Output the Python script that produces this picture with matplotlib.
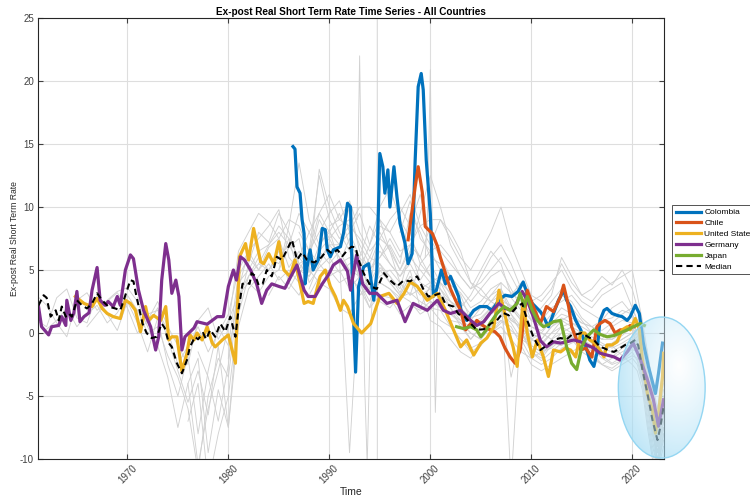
import numpy as np
import matplotlib
matplotlib.use("Agg")
import matplotlib.pyplot as plt
from matplotlib.patches import Ellipse

plt.rcParams['font.family'] = ['Liberation Sans', 'DejaVu Sans']
plt.rcParams['axes.unicode_minus'] = False

# highlighted countries: (time, rate) pairs
colombia_t = [1986.4, 1986.6, 1986.8, 1987.1, 1987.3, 1987.5, 1987.6, 1987.8, 1988.1, 1988.4,
              1988.9, 1989.3, 1989.6, 1989.8, 1990.1, 1990.4, 1991.1, 1991.4, 1991.8, 1992.1,
              1992.3, 1992.6, 1992.9, 1993.4, 1993.9, 1994.4, 1994.7, 1995.0, 1995.3, 1995.5,
              1995.8, 1996.0, 1996.4, 1996.7, 1997.0, 1997.5, 1997.8, 1998.2, 1998.5, 1998.8,
              1999.1, 1999.3, 1999.6, 2000.0, 2000.3, 2000.6, 2001.1, 2001.5, 2002.0, 2002.3,
              2002.8, 2003.1, 2003.6, 2004.3, 2004.9, 2005.6, 2006.1, 2006.8, 2007.4, 2008.1,
              2008.7, 2009.2, 2009.6, 2010.1, 2010.9, 2011.2, 2011.7, 2012.2, 2012.7, 2013.2,
              2013.5, 2013.9, 2014.4, 2014.9, 2015.3, 2015.8, 2016.2, 2016.5, 2016.8, 2017.2,
              2017.5, 2018.0, 2018.5, 2019.0, 2019.5, 2019.8, 2020.3, 2020.7, 2021.1, 2021.6,
              2022.3, 2022.6, 2023.0]
colombia_v = [14.8, 14.6, 11.6, 11.1, 9.0, 7.9, 3.9, 5.25, 6.6, 5.0,
              5.8, 8.3, 8.2, 6.6, 6.05, 6.6, 6.85, 7.9, 10.3, 10.0,
              3.4, -3.1, 3.7, 5.25, 5.5, 2.6, 4.75, 14.25, 13.2, 11.1,
              12.95, 10.0, 13.2, 10.8, 8.7, 7.1, 5.5, 6.3, 13.7, 19.55,
              20.6, 19.3, 13.7, 9.5, 2.9, 3.4, 5.0, 3.9, 4.5, 3.9,
              2.9, 1.55, 1.0, 1.8, 2.1, 2.1, 1.8, 2.6, 3.0, 2.9,
              3.3, 4.05, 3.15, 2.35, 1.7, 1.3, 0.5, 1.55, 2.6, 3.4,
              2.6, 2.1, 1.0, 0.25, -0.8, -2.15, -2.65, -1.6, 1.0, 1.8,
              1.95, 1.55, 1.4, 1.3, 1.0, 1.3, 2.2, 1.55, -0.8, -2.65,
              -4.8, -3.2, -0.8]

chile_t = [1997.8, 1998.2, 1998.5, 1998.8, 1999.2, 1999.5, 1999.8, 2000.2, 2000.7, 2001.0,
           2001.3, 2001.7, 2002.0, 2002.5, 2003.0, 2003.5, 2004.0, 2004.3, 2004.6, 2005.2,
           2005.8, 2006.4, 2006.9, 2007.4, 2007.9, 2008.4, 2008.9, 2009.6, 2010.2, 2010.9,
           2011.5, 2012.2, 2012.9, 2013.2, 2013.7, 2014.0, 2014.5, 2014.9, 2015.4, 2016.0,
           2016.5, 2016.8, 2017.3, 2017.8, 2018.3, 2018.8, 2019.3, 2019.8, 2020.2]
chile_v = [7.4, 9.75, 11.6, 13.2, 11.2, 8.45, 8.2, 7.9, 6.9, 6.0,
           5.25, 4.2, 3.5, 2.6, 1.8, 0.25, 0.75, 0.5, 1.0, 0.6,
           0.3, 0.1, -0.3, -1.2, -1.9, -2.4, -1.35, 3.4, 2.1, 0.75,
           2.1, 1.7, 2.9, 3.8, 2.1, 0.5, -0.55, -1.35, -1.2, -1.9,
           0.5, 0.75, 1.0, 0.75, 0.0, 0.25, 0.25, 0.6, 0.5]

usa_t = [1964.85, 1965.7, 1966.5, 1967.0, 1967.5, 1968.0, 1968.6, 1969.3, 1969.8, 1970.3,
         1970.8, 1971.3, 1971.8, 1972.1, 1972.6, 1973.3, 1973.8, 1974.1, 1974.4, 1974.9,
         1975.4, 1975.9, 1976.2, 1976.6, 1976.9, 1977.4, 1977.9, 1978.4, 1978.7, 1979.4,
         1980.0, 1980.7, 1981.1, 1981.7, 1982.0, 1982.5, 1983.2, 1983.5, 1984.0, 1984.5,
         1985.0, 1985.5, 1986.1, 1986.6, 1987.1, 1987.5, 1987.9, 1988.4, 1989.1, 1989.6,
         1990.1, 1990.6, 1991.1, 1991.4, 1991.8, 1992.4, 1993.2, 1994.1, 1995.0, 1995.9,
         1996.7, 1997.4, 1998.0, 1998.7, 1999.7, 2000.7, 2001.5, 2002.3, 2003.0, 2003.6,
         2004.3, 2005.0, 2005.6, 2006.3, 2006.8, 2007.3, 2007.8, 2008.2, 2008.6, 2009.2,
         2009.6, 2010.1, 2010.6, 2011.2, 2011.7, 2012.2, 2012.9, 2013.4, 2013.9, 2014.4,
         2014.9, 2015.3, 2015.8, 2016.3, 2016.8, 2017.2, 2017.5, 2018.0, 2018.5, 2019.0,
         2019.5, 2019.8, 2020.3, 2020.7, 2021.0, 2021.5, 2022.0, 2022.3, 2022.6, 2023.0,
         2023.1]
usa_v = [2.9, 2.35, 2.1, 2.75, 1.95, 1.55, 1.3, 1.15, 2.6, 2.35,
         1.8, 0.1, 2.1, 1.0, 1.4, 1.0, 2.1, -0.55, -0.3, -0.3,
         -3.05, -1.6, -0.15, -0.55, 0.0, -0.55, 0.5, -0.8, -1.1, -0.55,
         -0.15, -2.4, 6.05, 7.1, 5.8, 8.3, 5.65, 5.5, 6.3, 5.5,
         7.25, 5.0, 4.5, 5.8, 3.9, 2.35, 2.5, 2.35, 4.5, 5.0,
         3.7, 2.9, 1.8, 2.6, 2.1, 0.75, 0.0, 0.75, 2.9, 3.15,
         2.35, 3.15, 4.05, 3.7, 2.6, 3.15, 1.8, 0.25, -1.1, -0.55,
         -1.75, -0.8, -0.4, 0.5, 3.4, 1.8, 0.0, -1.1, -2.65, 2.6,
         0.0, -1.9, -0.55, -1.9, -3.45, -1.35, -1.5, -1.2, -1.35, -1.9,
         0.0, 0.0, -0.55, -0.8, -1.35, -1.9, -0.95, -0.95, -0.7, 0.25,
         0.5, 0.25, 1.15, 0.25, -2.15, -4.8, -6.1, -7.95, -6.4, -3.45,
         -1.6]

germany_t = [1961.2, 1961.5, 1962.2, 1962.5, 1963.2, 1963.5, 1963.9, 1964.0, 1964.4, 1964.7,
             1965.0, 1965.3, 1965.7, 1966.2, 1966.5, 1967.0, 1967.3, 1967.8, 1968.1, 1968.6,
             1969.0, 1969.3, 1969.8, 1970.3, 1970.6, 1971.1, 1971.6, 1972.3, 1972.8, 1973.1,
             1973.4, 1973.8, 1974.1, 1974.4, 1974.8, 1975.1, 1975.4, 1975.7, 1976.6, 1976.9,
             1977.9, 1978.4, 1978.9, 1979.5, 1980.0, 1980.5, 1980.8, 1981.2, 1981.6, 1982.2,
             1982.8, 1983.3, 1983.8, 1984.3, 1985.0, 1985.6, 1986.1, 1986.8, 1987.5, 1987.9,
             1988.6, 1989.3, 1989.9, 1990.4, 1991.1, 1991.8, 1992.1, 1992.7, 1993.3, 1994.0,
             1994.7, 1995.7, 1996.7, 1997.5, 1998.3, 1999.7, 2000.7, 2001.3, 2002.0, 2003.0,
             2004.0, 2004.6, 2005.3, 2005.9, 2006.8, 2007.4, 2008.2, 2009.1, 2009.6, 2010.2,
             2010.9, 2011.5, 2012.2, 2012.9, 2013.5, 2014.2, 2014.9, 2015.5, 2016.2, 2016.8,
             2017.5, 2018.2, 2018.8, 2019.5, 2020.1, 2020.8, 2021.5, 2022.1, 2022.6, 2023.1]
germany_v = [2.1, 0.5, -0.15, 0.5, 0.6, 1.3, 0.6, 2.6, 1.0, 1.6,
             3.3, 0.9, 1.3, 1.6, 3.4, 5.2, 2.6, 2.2, 2.5, 2.1,
             2.9, 2.2, 5.0, 6.2, 5.9, 3.4, 1.8, 0.5, -1.35, -0.3,
             4.2, 7.1, 5.8, 3.15, 4.2, 2.9, -1.35, -0.3, 0.4, 0.9,
             0.7, 1.0, 1.3, 1.3, 3.7, 5.0, 4.2, 6.05, 5.8, 5.0,
             3.9, 2.35, 3.4, 3.9, 3.7, 3.55, 4.35, 5.4, 3.4, 2.9,
             2.9, 3.9, 4.6, 5.4, 5.8, 4.9, 3.4, 6.2, 3.9, 3.15,
             3.15, 2.35, 2.6, 0.9, 2.35, 1.8, 2.6, 1.8, 1.55, 1.8,
             1.0, 0.6, 0.9, 1.55, 2.35, 1.95, 1.8, 3.3, 2.6, 1.3,
             -0.6, -1.1, -0.7, -0.8, -0.7, -0.55, -0.7, -0.95, -1.2, -1.6,
             -1.75, -1.9, -2.15, -1.5, -0.8, -2.1, -3.7, -5.3, -7.4, -5.3]

japan_t = [2002.6, 2003.3, 2004.0, 2004.6, 2005.0, 2005.5, 2005.9, 2006.6, 2007.3, 2007.9,
           2008.6, 2008.9, 2009.3, 2009.6, 2010.1, 2010.6, 2011.2, 2011.8, 2012.2, 2012.9,
           2013.5, 2014.0, 2014.5, 2015.0, 2015.5, 2016.2, 2016.8, 2017.5, 2018.2, 2018.8,
           2019.5, 2020.1, 2020.8, 2021.2]
japan_v = [0.5, 0.35, 0.5, 0.25, -0.3, 0.2, 0.75, 1.55, 2.1, 1.8,
           2.35, 3.15, 2.1, 2.9, 1.8, 1.0, 0.5, 0.7, 0.9, 1.0,
           -1.1, -2.4, -2.9, -1.1, -0.3, 0.25, -0.1, -0.3, -0.2, 0.0,
           0.25, 0.5, 0.75, 0.6]

median_t = [1961.2, 1961.7, 1962.0, 1962.4, 1962.9, 1963.2, 1963.5, 1963.9, 1964.2, 1964.5,
            1965.0, 1965.5, 1966.0, 1966.5, 1967.0, 1967.5, 1968.1, 1968.8, 1969.3, 1969.8,
            1970.3, 1970.6, 1970.9, 1971.5, 1971.9, 1972.4, 1972.9, 1973.4, 1973.7, 1974.1,
            1974.4, 1974.9, 1975.4, 1975.9, 1976.2, 1976.7, 1977.0, 1977.5, 1977.8, 1978.2,
            1978.7, 1979.2, 1979.7, 1980.2, 1980.7, 1981.0, 1981.4, 1981.8, 1982.1, 1982.3,
            1982.7, 1983.0, 1983.4, 1983.8, 1984.3, 1984.8, 1985.3, 1985.8, 1986.3, 1986.8,
            1987.3, 1987.8, 1988.5, 1989.2, 1989.8, 1990.3, 1990.8, 1991.3, 1991.8, 1992.2,
            1992.6, 1992.9, 1993.4, 1994.1, 1994.7, 1995.4, 1996.0, 1996.7, 1997.4, 1998.0,
            1998.7, 1999.3, 1999.8, 2000.4, 2001.0, 2001.5, 2002.3, 2002.8, 2003.4, 2004.0,
            2004.6, 2005.3, 2006.0, 2006.6, 2007.2, 2007.8, 2008.5, 2009.1, 2009.6, 2010.2,
            2010.9, 2011.5, 2012.2, 2012.9, 2013.5, 2014.0, 2014.5, 2015.0, 2015.6, 2016.2,
            2016.8, 2017.2, 2017.7, 2018.2, 2018.8, 2019.3, 2019.8, 2020.3, 2020.6, 2021.0,
            2021.5, 2022.0, 2022.5, 2022.8, 2023.1]
median_v = [2.2, 3.0, 2.8, 1.3, 1.8, 1.0, 2.1, 1.3, 1.55, 1.3,
            2.6, 2.2, 1.95, 2.35, 3.15, 2.6, 2.1, 1.95, 1.8, 3.0,
            4.2, 4.1, 2.9, 0.75, 0.0, -0.4, -0.3, 0.75, 0.4, -0.8,
            -1.1, -2.4, -3.2, -2.15, -1.1, -0.3, -0.5, 0.0, -0.5, 0.25,
            -0.3, 0.75, 0.1, 1.3, -0.3, 1.8, 3.9, 4.0, 3.9, 4.75,
            4.5, 3.8, 3.9, 5.0, 4.5, 6.05, 5.8, 6.6, 7.4, 5.8,
            6.4, 5.8, 5.6, 6.0, 6.6, 6.3, 6.6, 6.1, 6.6, 6.85,
            6.8, 5.8, 4.75, 3.7, 3.5, 4.75, 4.2, 3.7, 4.2, 4.1,
            4.5, 3.5, 2.9, 3.0, 3.15, 2.3, 2.1, 1.5, 1.3, 0.75,
            0.25, 0.3, 0.75, 1.0, 1.6, 1.4, 2.0, 2.35, 1.0, -0.3,
            -1.35, -1.0, -0.55, -0.4, -0.5, -0.15, -0.1, 0.0, -0.3, -0.55,
            -1.1, -1.2, -1.4, -1.5, -1.2, -0.95, -0.8, -0.55, -1.0, -2.9,
            -4.8, -6.9, -8.5, -7.4, -5.85]

# remaining countries: one value per year from the start year to 2020,
# followed by the six points of the 2020-2023 tail
tail_t = [2020.5, 2021.0, 2021.5, 2022.0, 2022.5, 2023.1]

other_a = (1961, [1.0, 0.5, 2.8, 3.5, 1.2, 0.8, 3.0, 1.5, 0.2, 2.5,
                  0.8, -1.5, 1.2, -2.5, -5.0, -1.8, -8.0, -3.0, 0.5, -1.0,
                  4.5, 6.0, 5.0, 6.8, 7.5, 5.2, 6.5, 4.8, 7.0, 8.2,
                  5.5, 7.5, 4.0, 2.5, 5.2, 4.5, 3.2, 5.0, 2.0, 3.8,
                  2.5, 1.0, 0.8, -0.5, 0.5, 1.5, 2.2, 1.0, 0.5, -1.2,
                  -1.8, -0.8, -1.0, -0.4, 0.2, -0.8, -1.6, -1.9, -1.2, -0.9,
                  -1.5, -3.5, -5.5, -8.0, -9.5, -7.0])
other_b = (1961, [3.0, 2.2, 0.8, -0.3, 2.6, 3.2, 1.8, 2.6, 3.3, 3.6,
                  2.5, 0.5, -1.0, -3.5, -7.5, -4.0, -2.0, -9.5, -4.5, -7.5,
                  2.0, 5.5, 8.0, 7.2, 9.5, 8.0, 5.5, 6.0, 9.0, 7.5,
                  8.5, 9.0, 7.0, 5.5, 7.5, 6.8, 5.0, 6.5, 4.2, 5.5,
                  4.0, 3.2, 2.0, 1.2, 1.5, 2.5, 3.0, 2.8, 1.8, 0.5,
                  0.2, 0.8, 1.5, 1.2, 0.8, 0.5, -0.2, -0.5, 0.0, 0.3,
                  -0.8, -2.0, -4.0, -6.0, -10.5, -6.5])
other_c = (1962, [0.3, 1.0, 2.0, 0.5, 1.5, 2.2, 0.8, 1.6, 3.0,
                  1.8, 0.0, 0.5, -1.8, -3.5, -6.0, -11.0, -5.0, -2.0, -3.5,
                  3.0, 4.0, 3.2, 4.5, 5.0, 6.8, 7.5, 4.0, 5.2, 6.0,
                  4.8, 5.5, 6.0, 3.0, 4.0, 3.5, 2.8, 3.2, 2.5, 2.0,
                  1.8, 0.5, -0.5, -1.2, -0.8, 0.0, 0.8, 1.2, 0.2, -1.5,
                  -2.2, -1.5, -0.8, -0.3, -0.5, -1.0, -1.8, -2.4, -1.9, -1.3,
                  -1.5, -3.0, -5.0, -7.2, -9.0, -6.0])
other_d = (1971, [2.8, 1.5, 1.8, 0.2, -2.5, -1.0, 0.5, -1.5, 0.0, 1.5,
                  5.0, 6.5, 7.5, 8.5, 9.8, 6.0, 5.0, 4.5, 5.8, 7.0,
                  7.0, 10.0, 6.5, 5.0, 6.0, 7.5, 6.0, 8.0, 5.5, 6.5,
                  5.0, 3.8, 3.2, 2.0, 2.5, 3.5, 4.0, 3.2, 2.5, 1.5,
                  1.0, 2.0, 2.5, 3.0, 2.0, 1.5, 1.0, 1.2, 1.8, 1.5,
                  0.5, -1.5, -3.0, -5.5, -8.0, -5.0])
other_e = (1972, [0.5, 2.0, -0.5, -3.0, -5.5, -3.0, -6.5, -1.0, -7.5,
                  0.5, 3.5, 4.5, 5.5, 4.2, 5.0, 4.0, 3.0, 4.5, 5.0,
                  4.0, 4.5, 3.5, 2.0, 3.0, 2.8, 1.5, 2.2, 1.8, 2.5,
                  2.2, 1.5, 0.8, 0.0, -0.5, 0.5, 1.0, 0.2, -0.5, -2.0,
                  -2.5, -2.0, -1.2, -0.8, -0.5, -1.2, -2.0, -2.5, -2.2, -1.8,
                  -2.0, -3.5, -6.0, -8.5, -10.5, -7.5])
other_f = (1976, [-4.0, -10.5, -6.0, -3.0, 0.5,
                  6.5, 8.0, 9.5, 8.8, 7.5, 9.0, 8.5, 6.5, 8.0, 9.5,
                  10.5, 8.0, 9.5, 7.0, 10.0, 11.5, 9.0, 7.5, 6.0, 8.5,
                  6.5, 5.5, 4.5, 3.5, 4.0, 5.0, 6.0, 4.5, 3.0, 1.0,
                  0.5, 1.5, 3.0, 2.5, 1.2, 0.5, 0.2, 0.8, 1.5, 2.0,
                  1.0, -0.5, -2.5, -4.5, -7.0, -4.0])
other_g = (1977, [-1.5, -3.5, -7.0, -2.5,
                  4.0, 5.0, 6.5, 7.0, 8.0, 7.0, 9.5, 8.0, 6.5, 7.5,
                  6.0, 5.0, 3.0, 3.5, 8.5, 8.0, 6.5, 7.0, 8.5, 7.0,
                  9.0, 7.5, 6.0, 5.0, 6.5, 8.0, 10.0, 7.0, 5.0, 3.0,
                  2.5, 3.5, 5.5, 4.0, 3.0, 3.5, 4.5, 3.8, 5.0, 3.5,
                  2.0, 0.5, -1.5, -4.0, -6.0, -2.5])
other_h = (1980, [-2.0,
                  3.5, 6.5, 5.0, 6.0, 5.5, 7.5, 4.5, 6.5, 12.5, 9.0,
                  7.5, 8.5, 10.0, 10.0, 9.0, 8.0, 9.5, 11.0, 8.5, 9.0,
                  9.0, 8.0, 6.5, 4.0, 3.5, 2.5, 3.5, 2.0, 1.0, 0.0,
                  -0.5, 0.5, 1.0, 1.5, 0.0, -0.5, -1.0, -0.8, -0.2, 0.5,
                  -0.5, -2.5, -4.5, -7.5, -10.5, -8.0])
other_i = (1985, [5.0, 8.5, 13.5, 9.0, 7.0, 8.0,
                  9.5, 7.0, 6.0, 8.5, 7.0, 5.5, 4.5, 6.0, 5.0, 4.0,
                  4.5, 3.0, 2.5, 1.5, 2.0, 3.0, 3.5, 1.5, 0.0, -1.0,
                  -1.5, -0.5, 0.5, 0.0, -0.5, -1.5, -2.5, -3.0, -2.5, -2.0,
                  -2.5, -4.0, -7.0, -9.5, -11.0, -9.0])
other_j = (1986, [4.0, 6.0, 5.0, 13.0, 10.0,
                  8.0, 6.5, 5.0, 4.0, 5.5, 4.5, 3.5, 6.5, 9.5, 12.5,
                  10.0, 7.0, 5.5, 4.0, 3.0, 2.5, 2.0, 1.0, 0.5, -0.5,
                  0.0, 1.0, 2.0, 1.5, 0.8, 0.5, 1.0, 2.0, 2.5, 1.5,
                  0.5, -1.0, -3.5, -6.5, -9.0, -5.5])
other_k = (1988, [3.5, 5.5, 7.0,
                  6.0, -9.5, 4.0, 2.0, 5.0, 4.0, 3.0, 2.5, 1.5, 2.0,
                  1.0, 0.5, -0.5, -1.5, -1.0, 0.0, 1.0, 0.5, -1.0, -2.5,
                  -3.0, -2.5, -2.0, -1.5, -1.0, -1.8, -2.5, -2.8, -2.2, -1.5,
                  -2.2, -3.8, -6.5, -9.0, -10.5, -8.5])
other_l = (1990, [8.5,
                  9.0, 10.5, 8.0, 6.5, 7.5, 9.0, 10.0, 8.5, 11.0, 7.5,
                  6.0, 4.5, 3.5, 2.5, 3.5, 4.5, 5.0, 3.5, 2.0, 1.0,
                  2.0, 3.0, 6.0, 4.5, 3.0, 2.5, 3.5, 4.0, 4.5, 5.0,
                  3.0, 1.0, -1.5, -4.0, -7.5, -3.5])
other_m = (1991, [5.5, 6.0, 4.5, 3.0, 4.0, 3.5, 2.5, 4.0, 3.0, 3.5,
                  3.0, 2.0, 1.0, 0.5, 1.0, 2.0, 2.5, 1.5, 0.5, -0.5,
                  -0.8, 0.0, 0.5, 0.8, 0.5, 0.0, -0.5, -0.5, 0.0, 0.5,
                  -0.2, -1.5, -4.0, -6.5, -9.5, -7.5])
other_n = (1995, [6.0, 7.0, 5.5, 9.5, 8.0, 6.0,
                  5.5, 4.5, 3.0, 1.0, 2.0, 3.0, 4.0, -12.0, 1.5, -0.5,
                  -1.0, 0.0, 1.0, 0.5, -0.5, -1.0, -1.5, -1.0, -0.5, 0.0,
                  -1.0, -3.0, -5.5, -8.0, -10.0, -7.0])
other_o = (1976, [-7.0, -4.0, -12.0, -8.0, -5.0,
                  1.5, 4.5, 6.0, 5.0, 6.5, 4.0, 3.0, 5.0, 4.0, 3.5,
                  2.0, 1.5, 3.0, 4.0, 2.5, 2.0, 3.0, 4.5, 3.5, 1.0,
                  0.5, -0.5, -1.5, -2.0, -1.0, 0.0, 0.5, -0.5, -1.5, -2.0,
                  -1.5, -1.0, -0.5, 0.0, -1.0, -2.0, -2.5, -2.0, -1.5, -1.0,
                  -1.5, -3.0, -5.5, -8.0, -9.5, -6.5])
other_p = (1983, [5.5, 7.0, 8.5, 7.5, 6.0, 8.0, 9.5, 8.0,
                  7.0, 8.0, 6.0, 5.0, 6.5, 5.5, 4.5, 5.5, 4.0, 3.5,
                  3.0, 2.5, 1.5, 0.8, 1.2, 2.0, 2.8, 2.0, 1.0, 0.0,
                  -0.5, 0.5, 1.2, 0.8, 0.2, -0.3, -0.8, -1.2, -0.8, -0.3,
                  -1.0, -2.5, -4.5, -7.0, -9.0, -6.0])
other_q = (1987, [8.0, 6.5, 9.5, 11.0,
                  9.0, 8.5, 7.5, 6.0, 8.0, 6.5, 5.0, 7.0, 6.0, 4.5,
                  4.0, 2.5, 2.0, 3.0, 4.5, 6.0, 7.0, 5.5, 3.5, 2.0,
                  1.5, 2.5, 3.5, 2.0, 1.0, 0.0, -0.5, 0.5, 1.0, 0.8,
                  0.0, -1.8, -3.5, -6.0, -8.5, -6.0])
other_r = (1993, [5.0, 7.0, 9.0, 6.5, 4.0, 3.0, 5.5, 4.5,
                  3.5, 2.0, 0.5, -0.5, 0.5, 1.5, 2.0, -3.5, 0.0, -1.5,
                  -2.0, -1.0, 0.0, -0.5, -1.5, -2.0, -1.5, -1.0, -1.8, -2.5,
                  -3.0, -4.5, -7.5, -10.0, -11.0, -8.0])
other_s = (1984, [3.0, 4.5, 3.5, 5.0, 6.5, 5.5, 4.5,
                  5.0, 3.5, 4.5, 6.0, 5.5, 4.0, 3.0, 4.5, 3.5, 2.5,
                  2.0, 1.5, 1.0, 0.0, -0.5, 0.5, 1.5, 0.8, -0.5, -1.0,
                  -1.5, -1.2, -0.5, 0.0, -0.2, -0.8, -1.2, -1.5, -1.0, -0.5,
                  -1.2, -2.8, -5.0, -7.5, -9.5, -6.5])
other_t = (1997, [8.0, 10.5, 7.5, 6.5,
                  7.0, 6.0, 4.5, 3.5, 5.0, 6.5, 5.5, 3.0, 4.0, 2.5,
                  3.0, 4.0, 5.0, 3.5, 2.5, 2.0, 3.0, 3.5, 4.0, 2.0,
                  1.0, -0.5, -2.0, -5.0, -7.0, -4.5])
other_u = (1966, [0.5, 1.5, 2.5, 3.2, 2.0,
                  0.0, 1.0, 2.5, 0.5, -1.0, -2.5, 1.0, 2.0, -0.5, 1.0,
                  3.0, 4.5, 5.5, 5.0, 6.0, 7.0, 5.5, 4.5, 6.5, 5.5,
                  6.5, 5.0, 4.5, 3.5, 4.5, 5.0, 4.0, 3.0, 3.5, 4.0,
                  3.5, 2.5, 1.8, 1.0, 0.8, 1.8, 2.5, 2.2, 1.2, 0.5,
                  0.0, -0.5, 0.0, 0.5, 0.0, -0.5, -1.0, -1.0, -0.5, 0.0,
                  -0.8, -2.2, -4.2, -6.8, -8.8, -6.5])

# short quarterly episodes of other countries
episode_93_t = [1992.75, 1993.0, 1993.25, 1993.5, 1993.75, 1994.0, 1994.25]
episode_93_v = [9.0, 22.0, 8.0, -4.0, -10.5, -2.0, 3.0]
episode_00_t = [1999.5, 1999.75, 2000.0, 2000.25, 2000.5, 2000.75, 2001.0]
episode_00_v = [6.0, 10.0, 20.9, 5.0, -6.3, 2.0, 4.0]
episode_95_t = [1994.74, 1994.76]
episode_95_v = [60.0, -60.0]

others = [other_a, other_b, other_c, other_d, other_e, other_f, other_g, other_h,
          other_i, other_j, other_k, other_l, other_m, other_n, other_o, other_p,
          other_q, other_r, other_s, other_t, other_u]

fig = plt.figure(figsize=(7.5, 4.96), dpi=100)
ax = fig.add_axes([0.0507, 0.0746, 0.8347, 0.889])

gray = (0.82, 0.82, 0.82)
for start, vals in others:
    n_years = len(vals) - len(tail_t)
    t = np.r_[np.arange(start, start + n_years), tail_t]
    ax.plot(t, vals, color=gray, lw=0.65)
for t, v in [(episode_93_t, episode_93_v), (episode_00_t, episode_00_v),
             (episode_95_t, episode_95_v)]:
    ax.plot(t, v, color=gray, lw=0.65)

lw = 2.3
ax.plot(colombia_t, colombia_v, color=(0, 0.447, 0.741), lw=lw, label='Colombia')
ax.plot(chile_t, chile_v, color=(0.85, 0.325, 0.098), lw=lw, label='Chile')
ax.plot(usa_t, usa_v, color=(0.929, 0.694, 0.125), lw=lw, label='United States')
ax.plot(germany_t, germany_v, color=(0.494, 0.184, 0.556), lw=lw, label='Germany')
ax.plot(japan_t, japan_v, color=(0.466, 0.674, 0.188), lw=lw, label='Japan')
ax.plot(median_t, median_v, color='black', lw=1.5, ls=(0, (3, 2)), label='Median')

ax.set_xlim(1961.15, 2023.15)
ax.set_ylim(-10, 25)
ax.set_yticks(np.arange(-10, 26, 5))
ax.set_xticks(np.arange(1970, 2021, 10))
ax.grid(True, color=(0.87, 0.87, 0.87), lw=0.8)
ax.set_axisbelow(True)
ax.tick_params(direction='in', top=True, right=True, length=3.5, width=0.8,
               labelsize=7, colors=(0.25, 0.25, 0.25), pad=3)
for lab in ax.get_xticklabels():
    lab.set_rotation(45)
for s in ax.spines.values():
    s.set_color((0.15, 0.15, 0.15))
    s.set_linewidth(0.8)

ax.set_title('Ex-post Real Short Term Rate Time Series - All Countries',
             fontsize=7.2, fontweight='bold', pad=2)
ax.set_xlabel('Time', fontsize=7.5, color=(0.15, 0.15, 0.15), labelpad=1)
ax.set_ylabel('Ex-post Real Short Term Rate', fontsize=6.2, color=(0.15, 0.15, 0.15))
ax.yaxis.set_label_coords(-0.031, 0.5)

leg = ax.legend(loc='upper left', bbox_to_anchor=(0.896, 0.587),
                bbox_transform=fig.transFigure, fontsize=6.0, frameon=True,
                fancybox=False, edgecolor=(0.15, 0.15, 0.15), handlelength=3.0,
                handletextpad=0.45, borderpad=0.45, labelspacing=0.36,
                borderaxespad=0)
leg.get_frame().set_linewidth(0.7)

# highlight around the 2020-2023 drop, drawn in its own axes so it can
# extend past the right edge of the plot
cx, cy, w, h = 2022.92, -4.33, 8.6, 11.2
to_fig = ax.transData + fig.transFigure.inverted()
(x0, y0), (x1, y1) = to_fig.transform([(cx - w / 2, cy - h / 2), (cx + w / 2, cy + h / 2)])
ov = fig.add_axes([x0, y0, x1 - x0, y1 - y0], zorder=5)
ov.set_xlim(-1, 1)
ov.set_ylim(-1, 1)
ov.axis('off')
gy, gx = np.mgrid[1:-1:200j, -1:1:200j]
dist = np.clip(np.hypot(gx - 0.4, gy - 0.3) / 1.45, 0, 1) ** 0.85
rgba = np.zeros((200, 200, 4))
blue = np.array([0.63, 0.86, 0.96])
for k in range(3):
    rgba[..., k] = 1.0 * (1 - dist) + blue[k] * dist
rgba[..., 3] = 0.33 + 0.32 * dist
ell = Ellipse((0, 0), 2, 2, facecolor='none', edgecolor=(0.58, 0.84, 0.95),
              lw=1.0, clip_on=False)
ov.add_patch(ell)
im = ov.imshow(rgba, extent=(-1, 1, -1, 1), aspect='auto', interpolation='bilinear')
im.set_clip_path(ell)

fig.savefig('out.png', dpi=100)
